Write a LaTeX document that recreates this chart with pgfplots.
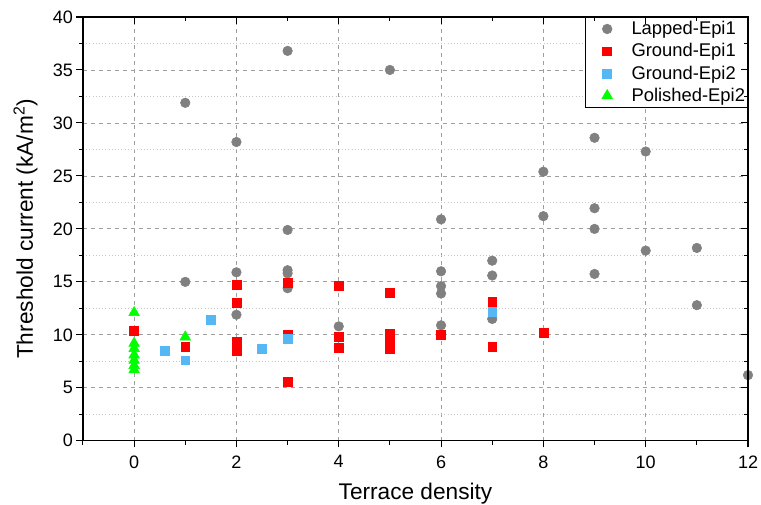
\documentclass[border=0pt]{standalone}
\usepackage{fontspec}
\setmainfont{Liberation Sans}
\usepackage{pgfplots}
\pgfplotsset{compat=1.18}

\definecolor{lapped}{HTML}{808080}
\definecolor{grnd1}{HTML}{FF0000}
\definecolor{grnd2}{HTML}{55B8F5}
\definecolor{polished}{HTML}{00FF00}

\begin{document}
\begin{tikzpicture}
\pgfplotsset{
  common/.style={
    scale only axis,
    width=499pt, height=318pt,
    xmin=-1, xmax=12, ymin=0, ymax=40,
    xtick={0,2,...,12}, ytick={0,5,...,40},
    minor xtick={-1,1,3,5,7,9,11},
    minor ytick={2.5,7.5,...,37.5},
    major tick length=5pt, minor tick length=3pt,
    every tick/.style={black, line width=0.8pt},
    axis line style={line width=1pt},
    /pgf/number format/assume math mode=true,
  },
}
\begin{axis}[
    common,
    xtick pos=bottom, ytick pos=left,
    tick align=outside,
    xmajorgrids, ymajorgrids, yminorgrids,
    major grid style={dashed, gray!75, line width=0.6pt},
    minor grid style={dotted, gray!45, line width=0.6pt},
    tick label style={font=\fontsize{13.5}{16}\selectfont},
    xticklabel style={yshift=-2.5pt},
    yticklabel style={xshift=1pt},
    label style={font=\fontsize{17}{20}\selectfont},
    xlabel={Terrace density},
    ylabel={Threshold current (kA/m\textsuperscript{2})},
    xlabel style={at={(axis description cs:0.5,-0.1384)}, anchor=base},
    ylabel style={at={(axis description cs:-0.0752,0.5)}, anchor=base},
    legend style={at={(1,1)}, anchor=north east, draw=black, line width=0.5pt,
      font=\fontsize{13.8}{16}\selectfont, row sep=5.2pt, inner xsep=1pt, inner ysep=3pt,
      nodes={inner xsep=1pt, inner ysep=0pt}},
    legend image code/.code={\path (-15.5pt,0pt) (17pt,0pt); \draw[#1] plot coordinates {(0pt,0pt)};},
    legend cell align=left,
    clip=false,
]
% Lapped-Epi1
\addplot[only marks, mark=*, mark size=3.6pt, color=lapped] coordinates {
(1,31.9) (1,15.0)
(2,28.2) (2,15.9) (2,11.9)
(3,36.8) (3,19.9) (3,16.1) (3,15.8) (3,14.4)
(4,10.8)
(5,35.0)
(6,20.9) (6,16.0) (6,14.6) (6,13.9) (6,10.9)
(7,17.0) (7,15.6) (7,11.5)
(8,25.4) (8,21.2)
(9,28.6) (9,21.95) (9,20.0) (9,15.75)
(10,27.3) (10,17.95)
(11,18.2) (11,12.8)
(12,6.2)
};
\addlegendentry{Lapped-Epi1}
% Ground-Epi1
\addplot[only marks, mark=square*, mark size=3.3pt, color=grnd1] coordinates {
(0,10.4)
(1,8.9)
(2,14.7) (2,13.05) (2,9.4) (2,8.5)
(3,14.9) (3,10.0) (3,5.6)
(4,14.6) (4,9.8) (4,8.75)
(5,13.95) (5,10.1) (5,9.5) (5,9.1) (5,8.7)
(6,9.97)
(7,13.1) (7,8.87)
(8,10.16)
};
\addlegendentry{Ground-Epi1}
% Ground-Epi2
\addplot[only marks, mark=square*, mark size=3.3pt, color=grnd2] coordinates {
(0.6,8.5) (1,7.6) (1.5,11.45) (2.5,8.65) (3,9.6) (7,12.2)
};
\addlegendentry{Ground-Epi2}
% Polished-Epi2
\addplot[only marks, mark=triangle*, mark size=4.6pt, color=polished] coordinates {
(0,12.1) (0,9.2) (0,8.7) (0,8.1) (0,7.6) (0,7.1) (0,6.7)
(1,9.8)
};
\addlegendentry{Polished-Epi2}
\coordinate (sw) at (rel axis cs:0,0);
\coordinate (ne) at (rel axis cs:1,1);
\end{axis}
\begin{axis}[
    common,
    xtick pos=top, ytick pos=right,
    tick align=inside,
    xticklabels={}, yticklabels={},
]
\end{axis}
\pgfresetboundingbox
\path[use as bounding box] ([xshift=-62.25pt,yshift=-48pt]sw) rectangle ([xshift=9.75pt,yshift=12.75pt]ne);
\end{tikzpicture}
\end{document}
